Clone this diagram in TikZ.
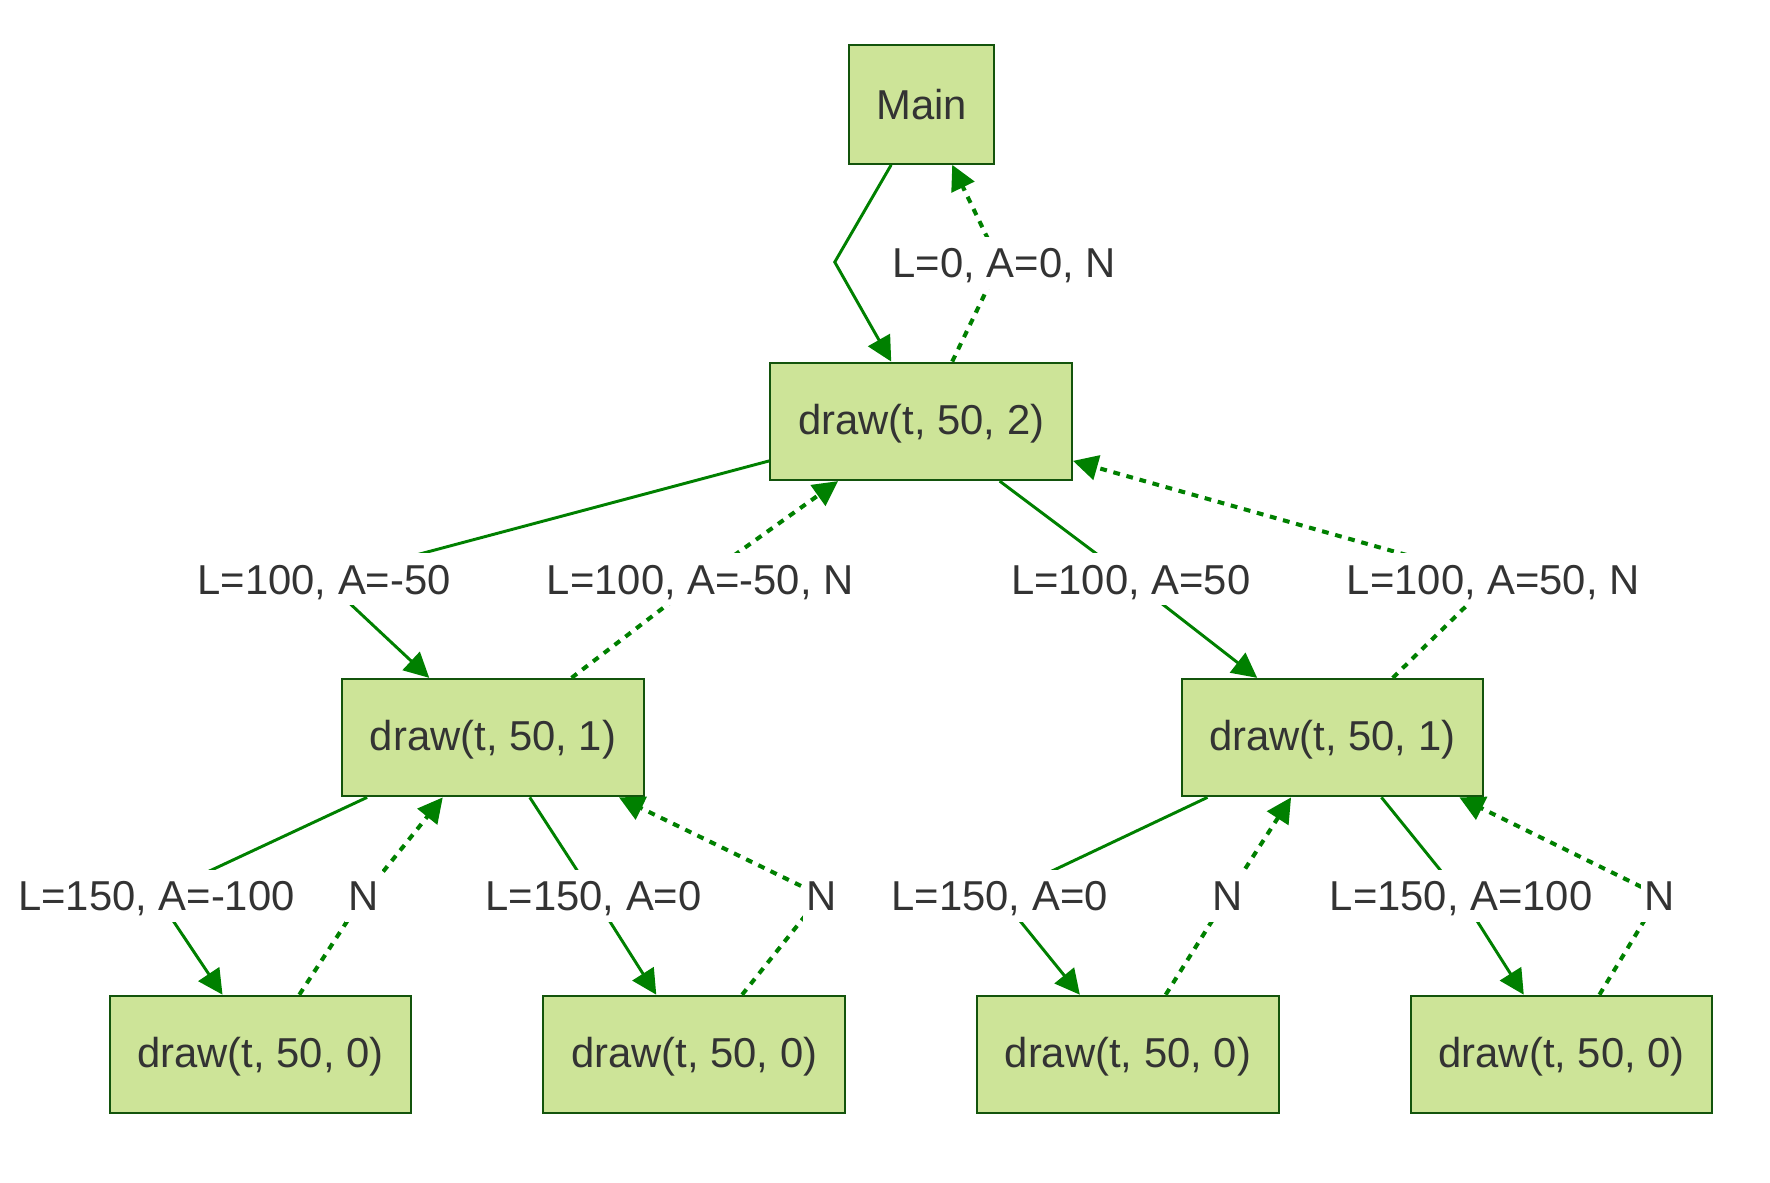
\documentclass[tikz,border=0pt]{standalone}
\usepackage{fontspec}
\setmainfont{Liberation Sans}
\usetikzlibrary{arrows.meta,calc}
\definecolor{nodefill}{HTML}{CDE498}
\definecolor{nodeline}{HTML}{13540C}
\definecolor{edgecol}{HTML}{008000}
\definecolor{txt}{HTML}{333333}
\begin{document}
\begin{tikzpicture}[x=0.5pt,y=-0.5pt,
  box/.style={draw=nodeline, line width=0.9pt, fill=nodefill, text=txt,
    font=\fontsize{18.5pt}{22pt}\selectfont, minimum width=133.5pt, minimum height=52pt, inner sep=0pt},
  callbox/.style={box, text height=15.5pt, text depth=3.9pt},
  lbl/.style={fill=white, text=txt, font=\fontsize{18.5pt}{22pt}\selectfont, inner sep=1.5pt,
    text height=16.5pt, text depth=3.5pt},
  call/.style={draw=edgecol, line width=1.3pt, line join=miter,
    -{Triangle[length=11pt,width=11pt]}},
  ret/.style={draw=edgecol, line width=1.8pt, dash pattern=on 3pt off 3pt, line join=miter,
    -{Triangle[length=11pt,width=11pt]}}]
\useasboundingbox (0,0) rectangle (1567,1046.5);
% nodes
\node[box, minimum width=64pt, minimum height=52.5pt] (M) at (816,92.5) {Main};
\node[callbox] (D2) at (815.5,373) {draw(t, 50, 2)};
\node[callbox] (L1) at (436.5,653) {draw(t, 50, 1)};
\node[callbox] (R1) at (1179.5,653) {draw(t, 50, 1)};
\node[callbox] (B1) at (230.5,933.5) {draw(t, 50, 0)};
\node[callbox] (B2) at (614.5,933.5) {draw(t, 50, 0)};
\node[callbox] (B3) at (998.5,933.5) {draw(t, 50, 0)};
\node[callbox] (B4) at (1382.5,933.5) {draw(t, 50, 0)};
% bends and label anchors
\coordinate (k1) at (739,232);
\coordinate (p2) at (885,233);
\coordinate (p3) at (287,513);
\coordinate (p4) at (620,513);
\coordinate (p5) at (1001,513);
\coordinate (p6) at (1322,513);
\coordinate (p7) at (138.5,793);
\coordinate (p8) at (322,793);
\coordinate (p9) at (525.5,793);
\coordinate (p10) at (727,793);
\coordinate (p11) at (885,793);
\coordinate (p12) at (1087,793);
\coordinate (p13) at (1293.5,793);
\coordinate (p14) at (1469,793);
% edges
\draw[call] ([xshift=-13.5pt]M.south) -- (k1) -- ([xshift=-13.25pt]D2.north);
\draw[ret] ([xshift=13.75pt]D2.north) -- (p2) -- ([xshift=13.5pt]M.south);
\draw[call] ([yshift=-17.5pt]D2.west) -- (p3) -- ([xshift=-28.25pt]L1.north);
\draw[ret] ([xshift=34.75pt]L1.north) -- (p4) -- ([xshift=-36.75pt]D2.south);
\draw[call] ([xshift=34.75pt]D2.south) -- (p5) -- ([xshift=-33.25pt]R1.north);
\draw[ret] ([xshift=26.75pt]R1.north) -- (p6) -- ([yshift=-17.5pt]D2.east);
\draw[call] ([xshift=-55.75pt]L1.south) -- (p7) -- ([xshift=-16.75pt]B1.north);
\draw[ret] ([xshift=17.25pt]B1.north) -- (p8) -- ([xshift=-22.25pt]L1.south);
\draw[call] ([xshift=16.25pt]L1.south) -- (p9) -- ([xshift=-16.75pt]B2.north);
\draw[ret] ([xshift=21.25pt]B2.north) -- (p10) -- ([xshift=55.75pt]L1.south);
\draw[call] ([xshift=-55.25pt]R1.south) -- (p11) -- ([xshift=-21.25pt]B3.north);
\draw[ret] ([xshift=16.75pt]B3.north) -- (p12) -- ([xshift=-18.25pt]R1.south);
\draw[call] ([xshift=21.75pt]R1.south) -- (p13) -- ([xshift=-16.75pt]B4.north);
\draw[ret] ([xshift=16.75pt]B4.north) -- (p14) -- ([xshift=56.25pt]R1.south);
% labels
\node[lbl] (t2) at (889,233) {L=0, A=0, N};
\node[lbl] (t3) at (p3) {L=100, A=-50};
\node[lbl] (t4) at (p4) {L=100, A=-50, N};
\node[lbl] (t5) at (p5) {L=100, A=50};
\node[lbl] (t6) at (p6) {L=100, A=50, N};
\node[lbl] (t7) at (p7) {L=150, A=-100};
\node[lbl] (t8) at (p8) {N};
\node[lbl] (t9) at (p9) {L=150, A=0};
\node[lbl] (t10) at (p10) {N};
\node[lbl] (t11) at (p11) {L=150, A=0};
\node[lbl] (t12) at (p12) {N};
\node[lbl] (t13) at (p13) {L=150, A=100};
\node[lbl] (t14) at (p14) {N};
\end{tikzpicture}
\end{document}
